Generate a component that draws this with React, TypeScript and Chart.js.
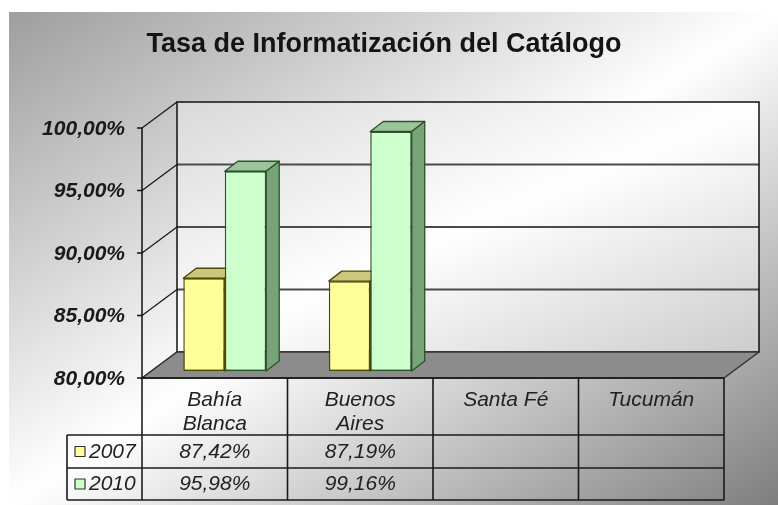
import React, { useEffect, useRef } from 'react';
import { Chart, registerables } from 'chart.js';

Chart.register(...registerables);

// ---------- data ----------
const TITLE = 'Tasa de Informatización del Catálogo';
const CATEGORIES: string[][] = [['Bahía', 'Blanca'], ['Buenos', 'Aires'], ['Santa Fé'], ['Tucumán']];
const SERIES_NAMES = ['2007', '2010'];
const VALUES_2007: (number | null)[] = [87.42, 87.19, null, null];
const VALUES_2010: (number | null)[] = [95.98, 99.16, null, null];
const Y_MIN = 80;
const Y_MAX = 100;
const Y_STEP = 5;

// ---------- styles ----------
const FONT = '"Liberation Sans", Arial, sans-serif';
const FRONT_FILL = ['#ffff99', '#ccffcc'];
const TOP_FILL = ['#cbc77c', '#9cc49c'];
const SIDE_FILL = ['#a9a655', '#76a476'];
const EDGE = ['#4a4a00', '#2a532a'];

const FRONT = { dx: -10, dy: 7 };
const BACK = { dx: 25, dy: -19 };
const BAR_DEPTH = { dx: 13, dy: -10 };

const fmt = (v: number) => v.toFixed(2).replace('.', ',') + '%';

function normGradient(ctx: CanvasRenderingContext2D, x: number, y: number, w: number, h: number, stops: [number, string][]) {
  ctx.save();
  ctx.translate(x, y);
  ctx.scale(w, h);
  const g = ctx.createLinearGradient(0, 0, 1, 1);
  stops.forEach(([o, c]) => g.addColorStop(o, c));
  ctx.fillStyle = g;
  ctx.fillRect(0, 0, 1, 1);
  ctx.restore();
}

function line(ctx: CanvasRenderingContext2D, x1: number, y1: number, x2: number, y2: number) {
  ctx.beginPath();
  ctx.moveTo(x1, y1);
  ctx.lineTo(x2, y2);
  ctx.stroke();
}

function poly(ctx: CanvasRenderingContext2D, pts: number[][], fill: string, stroke: string, lw: number) {
  ctx.beginPath();
  ctx.moveTo(pts[0][0], pts[0][1]);
  for (let i = 1; i < pts.length; i++) ctx.lineTo(pts[i][0], pts[i][1]);
  ctx.closePath();
  ctx.fillStyle = fill;
  ctx.fill();
  ctx.lineWidth = lw;
  ctx.strokeStyle = stroke;
  ctx.lineJoin = 'round';
  ctx.stroke();
}

const excel3d = {
  id: 'excel3d',
  beforeDraw(chart: any) {
    const { ctx, width, height } = chart;
    ctx.save();
    ctx.fillStyle = '#ffffff';
    ctx.fillRect(0, 0, width, height);
    normGradient(ctx, 9, 12, width - 9, height - 12, [
      [0, '#9e9e9e'],
      [0.5, '#ffffff'],
      [1, '#7e7e7e'],
    ]);
    ctx.restore();
  },
  beforeDatasetsDraw(chart: any) {
    const { ctx, chartArea: ca, scales } = chart;
    const xs = scales.x;
    const ys = scales.y;
    const yp = (v: number) => ys.getPixelForValue(v);

    const bl = ca.left + BACK.dx, br = ca.right + BACK.dx;
    const bt = yp(Y_MAX) + BACK.dy, bb = yp(Y_MIN) + BACK.dy;
    const fl = ca.left + FRONT.dx, fr = ca.right + FRONT.dx;
    const ft = yp(Y_MAX) + FRONT.dy, fb = yp(Y_MIN) + FRONT.dy;

    const ticks: number[] = [];
    for (let v = Y_MIN; v <= Y_MAX + 1e-9; v += Y_STEP) ticks.push(v);

    ctx.save();

    // title
    ctx.fillStyle = '#141414';
    ctx.font = `bold 27px ${FONT}`;
    ctx.textAlign = 'center';
    ctx.textBaseline = 'alphabetic';
    ctx.fillText(TITLE, 384, 52);

    // back wall
    normGradient(ctx, bl, bt, br - bl, bb - bt, [
      [0, '#d9d9d9'],
      [0.5, '#ffffff'],
      [1, '#cccccc'],
    ]);
    ctx.strokeStyle = '#4a4a4a';
    ctx.lineWidth = 2;
    ticks.forEach((v) => {
      if (v === Y_MIN || v === Y_MAX) return;
      line(ctx, bl, yp(v) + BACK.dy, br, yp(v) + BACK.dy);
    });
    ctx.strokeStyle = '#111';
    ctx.lineWidth = 1.5;
    ctx.strokeRect(bl, bt, br - bl, bb - bt);

    // left side wall lines
    ctx.strokeStyle = '#1a1a1a';
    ctx.lineWidth = 1.3;
    ticks.forEach((v) => {
      line(ctx, fl, yp(v) + FRONT.dy, bl, yp(v) + BACK.dy);
    });

    // floor
    poly(ctx, [[fl, fb], [fr, fb], [br, bb], [bl, bb]], '#8c8c8c', '#333', 1.5);
    ctx.strokeStyle = '#222';
    ctx.lineWidth = 2;
    line(ctx, fl, fb, fr, fb);

    // table geometry
    const colW = (ca.right - ca.left) / CATEGORIES.length;
    const headerBottom = 435;
    const rowBottoms = [468, 500];
    const legendLeft = 67;

    // front axis (continues into table)
    ctx.strokeStyle = '#111';
    ctx.lineWidth = 1.5;
    line(ctx, fl, ft, fl, rowBottoms[1]);
    ctx.font = `italic bold 21px ${FONT}`;
    ctx.fillStyle = '#1a1a1a';
    ctx.textAlign = 'right';
    ctx.textBaseline = 'middle';
    ticks.forEach((v) => {
      const y = yp(v) + FRONT.dy;
      line(ctx, fl - 5, y, fl, y);
      ctx.fillText(fmt(v), fl - 17, y + 1);
    });

    // table lines
    ctx.strokeStyle = '#1a1a1a';
    ctx.lineWidth = 1.6;
    for (let i = 1; i <= CATEGORIES.length; i++) {
      const x = fl + i * colW;
      line(ctx, x, fb, x, rowBottoms[1]);
    }
    line(ctx, legendLeft, headerBottom, fr, headerBottom);
    rowBottoms.forEach((y) => line(ctx, legendLeft, y, fr, y));
    line(ctx, legendLeft, headerBottom, legendLeft, rowBottoms[1]);

    // table header text
    ctx.fillStyle = '#222';
    ctx.font = `italic 21px ${FONT}`;
    ctx.textAlign = 'center';
    ctx.textBaseline = 'alphabetic';
    CATEGORIES.forEach((lines, i) => {
      const cx = xs.getPixelForValue(i) + FRONT.dx;
      lines.forEach((t, k) => ctx.fillText(t, cx, 406 + k * 24));
    });

    // table rows
    const series = [VALUES_2007, VALUES_2010];
    const rowBase = [458, 490];
    series.forEach((vals, r) => {
      const top = r === 0 ? headerBottom : rowBottoms[0];
      const mid = (top + rowBottoms[r]) / 2;
      ctx.fillStyle = FRONT_FILL[r];
      ctx.fillRect(75, mid - 5, 10, 10);
      ctx.strokeStyle = '#333';
      ctx.lineWidth = 1.2;
      ctx.strokeRect(75, mid - 5, 10, 10);
      ctx.fillStyle = '#222';
      ctx.textAlign = 'left';
      ctx.fillText(SERIES_NAMES[r], 89, rowBase[r]);
      ctx.textAlign = 'center';
      vals.forEach((v, i) => {
        if (v == null) return;
        ctx.fillText(fmt(v), xs.getPixelForValue(i) + FRONT.dx, rowBase[r]);
      });
    });

    // bar tops and sides (fronts drawn by Chart.js afterwards)
    const basePx = yp(Y_MIN);
    chart.data.datasets.forEach((ds: any, d: number) => {
      const meta = chart.getDatasetMeta(d);
      meta.data.forEach((el: any, i: number) => {
        if (ds.data[i] == null) return;
        const left = el.x - el.width / 2;
        const right = el.x + el.width / 2;
        const top = el.y;
        const base = basePx;
        const { dx, dy } = BAR_DEPTH;
        poly(ctx, [[left, top], [right, top], [right + dx, top + dy], [left + dx, top + dy]], TOP_FILL[d], EDGE[d], 1.3);
        poly(ctx, [[right, top], [right + dx, top + dy], [right + dx, base + dy], [right, base]], SIDE_FILL[d], EDGE[d], 1.3);
      });
    });

    ctx.restore();
  },
};

export default function App() {
  const ref = useRef<HTMLCanvasElement>(null);
  useEffect(() => {
    const chart = new Chart(ref.current as HTMLCanvasElement, {
      type: 'bar',
      data: {
        labels: CATEGORIES,
        datasets: [
          {
            label: SERIES_NAMES[0],
            data: VALUES_2007,
            backgroundColor: FRONT_FILL[0],
            borderColor: EDGE[0],
            borderWidth: 1.5,
            borderSkipped: false,
            base: Y_MIN,
          },
          {
            label: SERIES_NAMES[1],
            data: VALUES_2010,
            backgroundColor: FRONT_FILL[1],
            borderColor: EDGE[1],
            borderWidth: 1.5,
            borderSkipped: false,
            base: Y_MIN,
          },
        ],
      },
      options: {
        responsive: false,
        animation: false,
        devicePixelRatio: 1,
        layout: { padding: { left: 152, right: 44, top: 121, bottom: 134 } },
        datasets: { bar: { categoryPercentage: 0.57, barPercentage: 1 } },
        scales: {
          x: { display: false },
          y: { display: false, min: Y_MIN, max: Y_MAX, ticks: { stepSize: Y_STEP } },
        },
        plugins: {
          legend: { display: false },
          tooltip: { enabled: false },
          title: { display: false },
        },
      },
      plugins: [excel3d],
    } as any);
    return () => chart.destroy();
  }, []);
  return (
    <div style={{ position: 'absolute', left: 0, top: 0, width: 778, height: 505 }}>
      <canvas ref={ref} width={778} height={505} style={{ display: 'block' }} />
    </div>
  );
}
